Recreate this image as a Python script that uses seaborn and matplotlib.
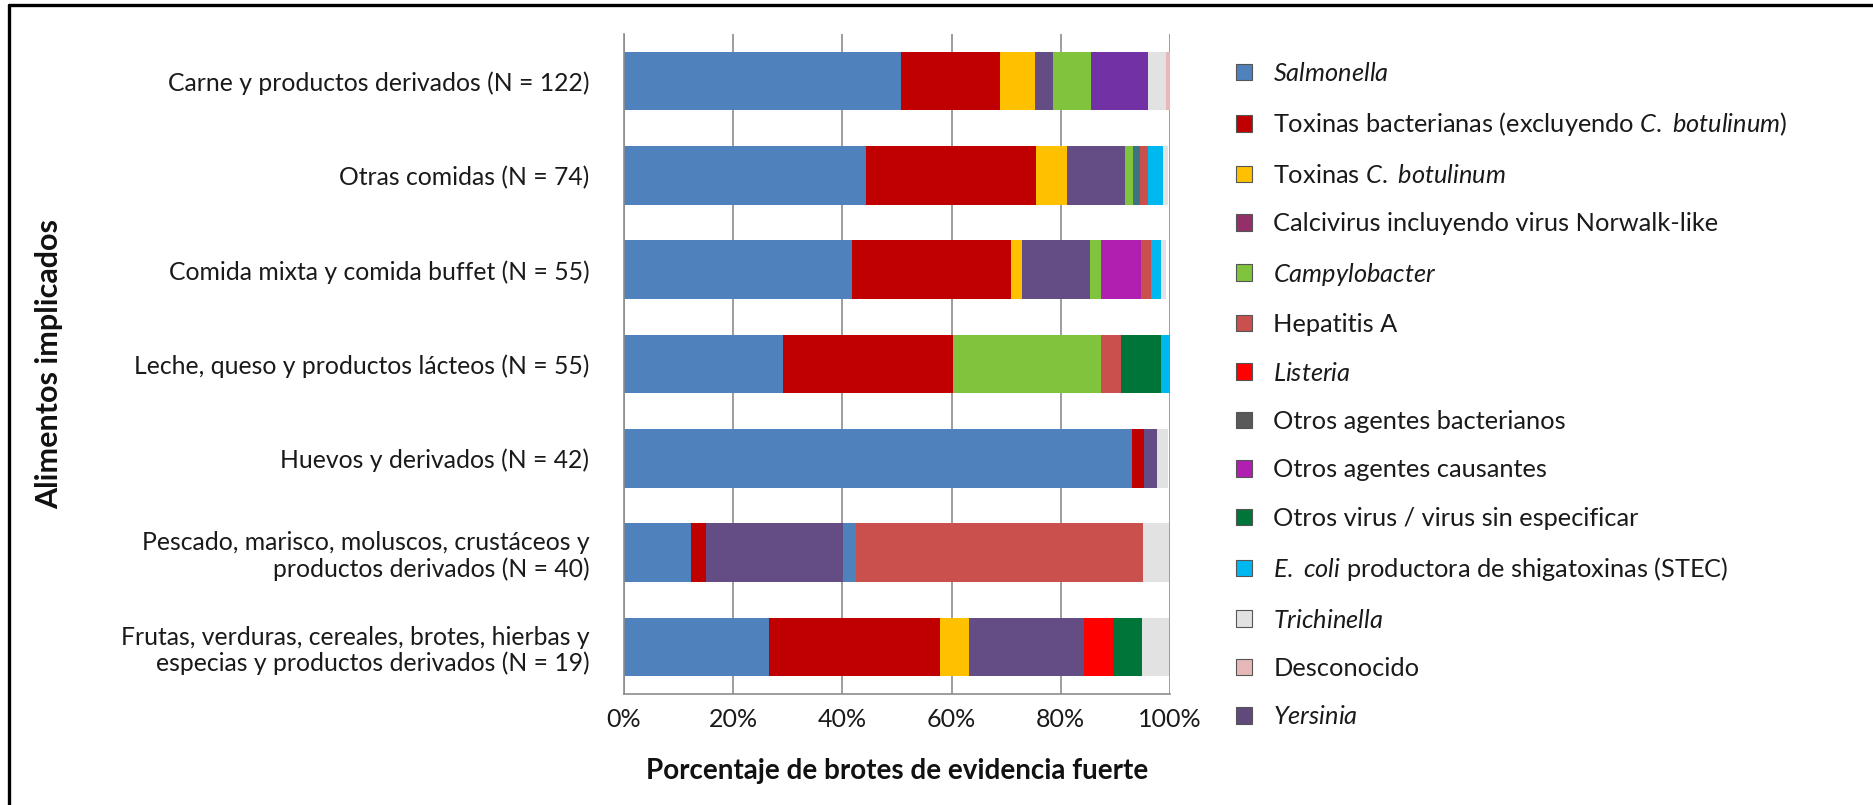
import matplotlib
matplotlib.use("Agg")
import matplotlib.pyplot as plt
from matplotlib.patches import Patch
from matplotlib.lines import Line2D
import numpy as np
import pandas as pd
import seaborn as sns

# ---- data (percentage of strong-evidence outbreaks per food group) ----
categorias = [
    "Carne y productos derivados (N = 122)",
    "Otras comidas (N = 74)",
    "Comida mixta y comida buffet (N = 55)",
    "Leche, queso y productos lácteos (N = 55)",
    "Huevos y derivados (N = 42)",
    "Pescado, marisco, moluscos, crustáceos y\nproductos derivados (N = 40)",
    "Frutas, verduras, cereales, brotes, hierbas y\nespecias y productos derivados (N = 19)",
]

salmonella        = [50.8, 44.4, 41.7, 29.1, 93.0, 12.2, 26.5]
toxinas_bact      = [18.0, 31.1, 29.2, 31.1,  2.3,  2.8, 31.4]
toxinas_botulinum = [ 6.5,  5.7,  2.0,  0.0,  0.0,  0.0,  5.2]
calcivirus        = [ 3.3, 10.6, 12.5,  0.0,  2.4, 25.2, 21.1]
campylobacter     = [ 7.0,  1.5,  2.0, 27.2,  0.0,  0.0,  0.0]
otros_causantes   = [10.3,  0.0,  7.3,  0.0,  0.0,  0.0,  0.0]
otros_bacterianos = [ 0.0,  1.2,  0.0,  0.0,  0.0,  2.2,  0.0]
hepatitis_a       = [ 0.0,  1.4,  1.8,  3.6,  0.0, 52.7,  0.0]
listeria          = [ 0.0,  0.0,  0.0,  0.0,  0.0,  0.0,  5.3]
otros_virus       = [ 0.0,  0.0,  0.0,  7.4,  0.0,  0.0,  5.3]
stec              = [ 0.0,  2.8,  1.9,  1.6,  0.0,  0.0,  0.0]
trichinella       = [ 3.3,  1.0,  0.9,  0.0,  1.9,  4.8,  5.1]
desconocido       = [ 0.8,  0.0,  0.0,  0.0,  0.0,  0.0,  0.0]
yersinia          = [ 0.0,  0.0,  0.0,  0.0,  0.0,  0.0,  0.0]

ticks_x = [0, 20, 40, 60, 80, 100]

# stacking order (left to right) and bar colours
series = [
    ("salmonella", salmonella, "#4F81BD"),
    ("toxinas_bact", toxinas_bact, "#C00000"),
    ("toxinas_botulinum", toxinas_botulinum, "#FFC000"),
    ("calcivirus", calcivirus, "#644C84"),
    ("campylobacter", campylobacter, "#80C33C"),
    ("otros_causantes", otros_causantes, "#B01FB0"),
    ("otros_bacterianos", otros_bacterianos, "#3E7383"),
    ("hepatitis_a", hepatitis_a, "#C9504D"),
    ("listeria", listeria, "#FF0000"),
    ("otros_virus", otros_virus, "#00753A"),
    ("stec", stec, "#00B8F0"),
    ("trichinella", trichinella, "#E2E2E2"),
    ("desconocido", desconocido, "#E6B9B8"),
    ("yersinia", yersinia, "#604A7B"),
]
# individual segments drawn in a different shade
segment_colors = {
    (0, "otros_causantes"): "#7232A6",
    (5, "otros_bacterianos"): "#4F81BD",
}

# legend entries (label, swatch colour)
legend_items = [
    (r"$\it{Salmonella}$", "#4F81BD"),
    (r"Toxinas bacterianas (excluyendo $\it{C.\ botulinum}$)", "#C00000"),
    (r"Toxinas $\it{C.\ botulinum}$", "#FFC000"),
    ("Calcivirus incluyendo virus Norwalk-like", "#93306A"),
    (r"$\it{Campylobacter}$", "#80C33C"),
    ("Hepatitis A", "#C9504D"),
    (r"$\it{Listeria}$", "#FF0000"),
    ("Otros agentes bacterianos", "#595959"),
    ("Otros agentes causantes", "#B01FB0"),
    ("Otros virus / virus sin especificar", "#00753A"),
    (r"$\it{E.\ coli}$ productora de shigatoxinas (STEC)", "#00B8F0"),
    (r"$\it{Trichinella}$", "#E2E2E2"),
    ("Desconocido", "#E6B9B8"),
    (r"$\it{Yersinia}$", "#604A7B"),
]

# ---- style ----
sns.set_style("white")
plt.rcParams["font.family"] = ["Lato", "DejaVu Sans"]
plt.rcParams["mathtext.fontset"] = "custom"
plt.rcParams["mathtext.rm"] = "Lato"
plt.rcParams["mathtext.it"] = "Lato:italic"
plt.rcParams["mathtext.bf"] = "Lato:bold"

TEXT = "#1a1a1a"
W, H = 1874, 805
fig = plt.figure(figsize=(W / 100, H / 100), dpi=100)
ax = fig.add_axes([624 / W, 1 - 694 / H, (1170 - 624) / W, (694 - 34) / H])

# cumulative totals, drawn from the right end backwards so each stack overlaps the next
df = pd.DataFrame({name: vals for name, vals, _ in series}, index=categorias)
cum = df.cumsum(axis=1)
cum["categoria"] = categorias

for name, _, color in reversed(series):
    sns.barplot(data=cum, x=name, y="categoria", order=categorias, orient="h",
                color=color, saturation=1, width=0.62, errorbar=None,
                linewidth=0, ax=ax)
    cont = ax.containers[-1]
    for (i, key), c in segment_colors.items():
        if key == name:
            cont.patches[i].set_facecolor(c)

# axes
ax.set_xlim(0, 100)
ax.set_ylim(len(categorias) - 0.5, -0.5)
ax.set_xticks(ticks_x)
ax.set_xticklabels([f"{t}%" for t in ticks_x], fontsize=18, color=TEXT)
ax.set_yticks(range(len(categorias)))
ax.set_yticklabels(categorias, fontsize=17.8, color=TEXT, linespacing=1.15)
ax.set_yticks(np.arange(-0.5, len(categorias) + 0.5, 1), minor=True)
ax.tick_params(axis="y", which="major", length=0, pad=25)
ax.tick_params(axis="y", which="minor", length=6, width=1.2, color="#8c8c8c", direction="out")
ax.tick_params(axis="x", which="major", length=6, width=1.2, color="#8c8c8c", direction="out", pad=4)

ax.grid(axis="x", color="#8c8c8c", linewidth=1.2)
ax.grid(axis="y", visible=False)
ax.set_axisbelow(True)
for s in ["top", "right"]:
    ax.spines[s].set_visible(False)
for s in ["left", "bottom"]:
    ax.spines[s].set_color("#8c8c8c")
    ax.spines[s].set_linewidth(1.2)

ax.set_xlabel("Porcentaje de brotes de evidencia fuerte", fontsize=20, fontweight="bold", color="#111111")
ax.set_ylabel("Alimentos implicados", fontsize=22, fontweight="bold", color="#111111")
ax.xaxis.set_label_coords(0.5, -0.097)
ax.yaxis.set_label_coords(-1.028, 0.5)

# legend
handles = [Patch(facecolor=c, edgecolor="#555555", linewidth=0.8) for _, c in legend_items]
labels = [l for l, _ in legend_items]
fig.legend(handles, labels, loc="upper left", bbox_to_anchor=(1236 / W, 1 - 62 / H),
           frameon=False, fontsize=18.3, handlelength=0.62, handleheight=0.62,
           handletextpad=0.85, labelspacing=1.0, borderaxespad=0, borderpad=0,
           labelcolor=TEXT)

# figure frame (left and top edges)
fig.add_artist(Line2D([9 / W, 9 / W], [0, 1 - 5 / H], transform=fig.transFigure,
                      color="black", linewidth=2.4))
fig.add_artist(Line2D([9 / W, 1], [1 - 5 / H, 1 - 5 / H], transform=fig.transFigure,
                      color="black", linewidth=2.4))

fig.savefig("out.png", dpi=100, facecolor="white")
